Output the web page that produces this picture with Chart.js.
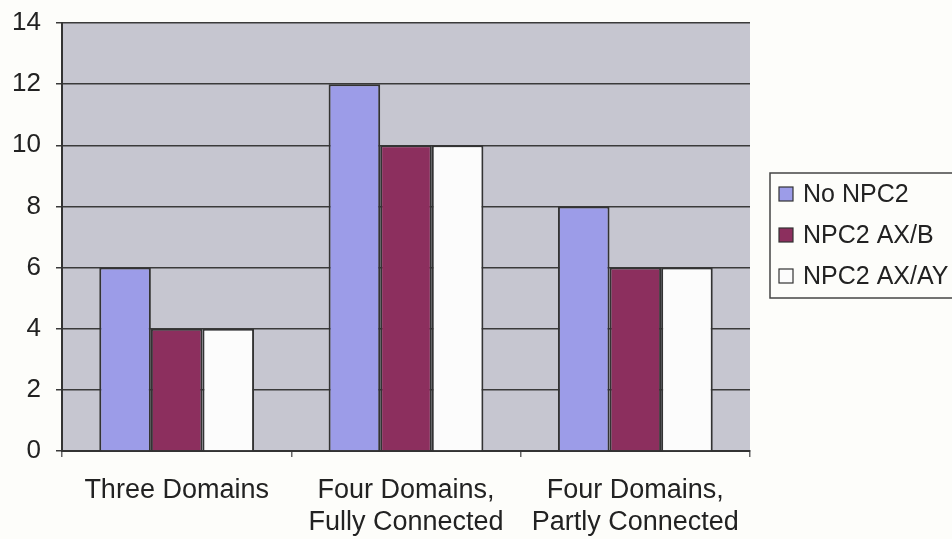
<!DOCTYPE html>
<html>
<head>
<meta charset="utf-8">
<script src="https://cdn.jsdelivr.net/npm/chart.js@4/dist/chart.umd.min.js"></script>
<style>
  html, body { margin: 0; padding: 0; background: #fdfdfa; }
  #wrap { width: 952px; height: 539px; position: relative; }
</style>
</head>
<body>
<div id="wrap"><canvas id="c" width="952" height="539"></canvas></div>
<script>
const categories = [["Three Domains"], ["Four Domains,", "Fully Connected"], ["Four Domains,", "Partly Connected"]];
const seriesNames = ["No NPC2", "NPC2 AX/B", "NPC2 AX/AY"];
const noNPC2 = [6, 12, 8];
const npc2AXB = [4, 10, 6];
const npc2AXAY = [4, 10, 6];
const yTicks = [0, 2, 4, 6, 8, 10, 12, 14];

const colors = ["#9c9ce8", "#8c2f5e", "#fcfcfc"];
const FONT = "'Liberation Sans', Arial, sans-serif";

const bgPlugin = {
  id: 'plotBg',
  beforeDraw(chart) {
    const { ctx, chartArea: a } = chart;
    ctx.save();
    ctx.fillStyle = '#fdfdfa';
    ctx.fillRect(0, 0, chart.width, chart.height);
    ctx.fillStyle = '#c6c6d0';
    ctx.fillRect(a.left, a.top, a.right - a.left, a.bottom - a.top);
    ctx.restore();
  }
};

const legendPlugin = {
  id: 'boxLegend',
  afterDraw(chart) {
    const { ctx, chartArea: a } = chart;
    const x0 = a.right + 20, y0 = 173, h = 125;
    ctx.save();
    ctx.fillStyle = '#fdfdfa';
    ctx.fillRect(x0, y0, chart.width - x0 + 5, h);
    ctx.strokeStyle = '#444';
    ctx.lineWidth = 1.5;
    ctx.strokeRect(x0, y0, chart.width - x0 + 5, h);
    ctx.font = "25px " + FONT;
    ctx.textBaseline = 'middle';
    chart.data.datasets.forEach((ds, i) => {
      const cy = 194 + i * 41;
      ctx.fillStyle = ds.backgroundColor;
      ctx.fillRect(x0 + 9, cy - 7, 14, 14);
      ctx.strokeStyle = '#333';
      ctx.lineWidth = 1.2;
      ctx.strokeRect(x0 + 9, cy - 7, 14, 14);
      ctx.fillStyle = '#222';
      ctx.fillText(ds.label, x0 + 33, cy + 1);
    });
    ctx.restore();
  }
};

new Chart(document.getElementById('c'), {
  type: 'bar',
  data: {
    labels: categories,
    datasets: [
      { label: seriesNames[0], data: noNPC2, backgroundColor: colors[0] },
      { label: seriesNames[1], data: npc2AXB, backgroundColor: colors[1] },
      { label: seriesNames[2], data: npc2AXAY, backgroundColor: colors[2] }
    ].map(d => Object.assign(d, { borderColor: '#333', borderWidth: 2, borderSkipped: 'bottom',
      categoryPercentage: 0.675, barPercentage: 1.0 }))
  },
  options: {
    responsive: false,
    animation: false,
    devicePixelRatio: 1,
    layout: { padding: { left: 0, right: 202, top: 23, bottom: 0 } },
    plugins: { legend: { display: false }, tooltip: { enabled: false } },
    scales: {
      x: {
        grid: { offset: true, drawOnChartArea: false, drawTicks: true, tickLength: 6, color: '#666', lineWidth: 1.5 },
        border: { display: true, color: '#333', width: 2 },
        ticks: { font: { size: 27, family: FONT, lineHeight: 1.2 }, color: '#222', padding: 17, maxRotation: 0 },
        afterFit(scale) { scale.height = 88; scale.paddingLeft = 0; scale.paddingRight = 0; }
      },
      y: {
        min: 0, max: 14,
        afterBuildTicks(scale) { scale.ticks = yTicks.map(v => ({ value: v })); },
        grid: { color: '#3a3a3a', lineWidth: 1.5, tickLength: 6, drawTicks: true },
        border: { display: true, color: '#333', width: 2 },
        ticks: { font: { size: 26, family: FONT }, color: '#222', padding: 15 },
        afterFit(scale) { scale.width = 62; scale.paddingTop = 0; scale.paddingBottom = 0; }
      }
    }
  },
  plugins: [bgPlugin, legendPlugin]
});
</script>
</body>
</html>
